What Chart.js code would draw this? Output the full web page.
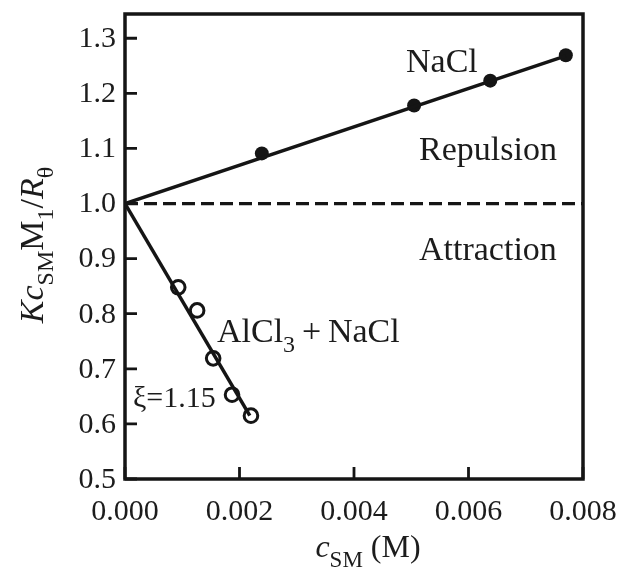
<!DOCTYPE html>
<html>
<head>
<meta charset="utf-8">
<script src="https://cdn.jsdelivr.net/npm/chart.js@4.4.0/dist/chart.umd.min.js"></script>
<style>
    html, body { margin: 0; padding: 0; background: #fff; }
    #wrap { width: 618px; height: 572px; position: relative; }
</style>
</head>
<body>
<div id="wrap"><canvas id="chart" width="618" height="572"></canvas></div>
<script>
// --- Data ---
const naclX = [0.00239, 0.00505, 0.00638, 0.00770];
const naclY = [1.091, 1.178, 1.223, 1.269];
const naclFitX = [0, 0.00770];
const naclFitY = [1.0, 1.268];

const alclX = [0.00093, 0.00126, 0.00154, 0.00187, 0.00220];
const alclY = [0.848, 0.806, 0.719, 0.653, 0.615];
const alclFitX = [0, 0.00218];
const alclFitY = [1.0, 0.615];

const refX = [0, 0.008];
const refY = [1.0, 1.0];

const xTicks = [0, 0.002, 0.004, 0.006, 0.008];
const yTicks = [0.5, 0.6, 0.7, 0.8, 0.9, 1.0, 1.1, 1.2, 1.3];

const INK = '#151515';
const TEXT = '#1c1c1c';
const SERIF = '"Liberation Serif", "DejaVu Serif", serif';

const toPoints = (xs, ys) => xs.map((x, i) => ({ x: x, y: ys[i] }));

// draw text made of pieces (italic / subscript)
function drawRich(ctx, parts, size, x, y, align) {
    const fontFor = p => `${p.italic ? 'italic ' : ''}${p.sub ? Math.round(size * 0.72) : size}px ${SERIF}`;
    let total = 0;
    parts.forEach(p => { ctx.font = fontFor(p); total += ctx.measureText(p.t).width; });
    let cx = align === 'center' ? x - total / 2 : x;
    parts.forEach(p => {
        ctx.font = fontFor(p);
        ctx.fillText(p.t, cx, y + (p.sub ? size * 0.3 : 0));
        cx += ctx.measureText(p.t).width;
    });
}

// frame, inward ticks, tick labels, titles and labels
const decor = {
    id: 'decor',
    afterDatasetsDraw(chart) {
        const { ctx, chartArea: a, scales } = chart;
        const xs = scales.x, ys = scales.y;
        ctx.save();
        ctx.strokeStyle = INK;
        ctx.lineWidth = 3.5;
        ctx.strokeRect(a.left, a.top, a.right - a.left, a.bottom - a.top);

        ctx.lineWidth = 2.8;
        ctx.beginPath();
        xs.ticks.forEach(t => {
            const px = xs.getPixelForValue(t.value);
            ctx.moveTo(px, a.bottom);
            ctx.lineTo(px, a.bottom - 12);
        });
        ys.ticks.forEach(t => {
            const py = ys.getPixelForValue(t.value);
            ctx.moveTo(a.left, py);
            ctx.lineTo(a.left + 12, py);
        });
        ctx.stroke();

        ctx.fillStyle = TEXT;

        // tick labels
        ctx.font = `30px ${SERIF}`;
        ctx.textAlign = 'center';
        ctx.textBaseline = 'alphabetic';
        xs.ticks.forEach(t => {
            ctx.fillText(t.value.toFixed(3), xs.getPixelForValue(t.value), a.bottom + 41);
        });
        ctx.textAlign = 'right';
        ctx.textBaseline = 'middle';
        ys.ticks.forEach(t => {
            ctx.fillText(t.value.toFixed(1), a.left - 9, ys.getPixelForValue(t.value) + 1);
        });

        ctx.textBaseline = 'alphabetic';
        ctx.textAlign = 'left';

        // annotations
        ctx.font = `34px ${SERIF}`;
        ctx.fillText('NaCl', 406, 72);
        ctx.fillText('Repulsion', 419, 160);
        ctx.fillText('Attraction', 419, 260);
        drawRich(ctx, [{ t: 'AlCl' }, { t: '3', sub: true }, { t: '\u2009+\u2009NaCl' }], 34, 217, 342, 'left');
        ctx.font = `30px ${SERIF}`;
        ctx.fillText('ξ=1.15', 133, 407);

        // x title
        drawRich(ctx, [{ t: 'c', italic: true }, { t: 'SM', sub: true }, { t: ' (M)' }], 32, 368, 557, 'center');

        // y title
        ctx.translate(43, 245);
        ctx.rotate(-Math.PI / 2);
        drawRich(ctx, [
            { t: 'K', italic: true }, { t: 'c', italic: true }, { t: 'SM', sub: true },
            { t: 'M' }, { t: '1', sub: true }, { t: '/' },
            { t: 'R', italic: true }, { t: 'θ', sub: true }
        ], 34, 0, 0, 'center');
        ctx.restore();
    }
};

new Chart(document.getElementById('chart'), {
    type: 'scatter',
    data: {
        datasets: [
            {
                label: 'ref', data: toPoints(refX, refY), showLine: true,
                borderColor: INK, borderWidth: 3.2, borderDash: [13, 6], pointRadius: 0
            },
            {
                label: 'NaCl fit', data: toPoints(naclFitX, naclFitY), showLine: true,
                borderColor: INK, borderWidth: 3.5, pointRadius: 0
            },
            {
                label: 'AlCl3 fit', data: toPoints(alclFitX, alclFitY), showLine: true,
                borderColor: INK, borderWidth: 3.5, pointRadius: 0
            },
            {
                label: 'NaCl', data: toPoints(naclX, naclY),
                pointRadius: 7, pointBackgroundColor: INK, pointBorderColor: INK, pointBorderWidth: 0
            },
            {
                label: 'AlCl3+NaCl', data: toPoints(alclX, alclY),
                pointRadius: 6.8, pointBackgroundColor: '#fff', pointBorderColor: INK, pointBorderWidth: 3
            }
        ]
    },
    options: {
        responsive: false,
        animation: false,
        events: [],
        layout: { padding: { top: 14, right: 35, left: 0, bottom: 0 } },
        plugins: { legend: { display: false }, tooltip: { enabled: false } },
        scales: {
            x: {
                type: 'linear', min: 0, max: 0.008,
                afterBuildTicks: s => { s.ticks = xTicks.map(v => ({ value: v })); },
                afterFit: s => { s.height = 93; },
                grid: { display: false, drawTicks: false },
                border: { display: false },
                ticks: { display: false }
            },
            y: {
                type: 'linear', min: 0.5, max: 1.344,
                afterBuildTicks: s => { s.ticks = yTicks.map(v => ({ value: v })); },
                afterFit: s => { s.width = 125; },
                grid: { display: false, drawTicks: false },
                border: { display: false },
                ticks: { display: false }
            }
        }
    },
    plugins: [decor]
});
</script>
</body>
</html>
